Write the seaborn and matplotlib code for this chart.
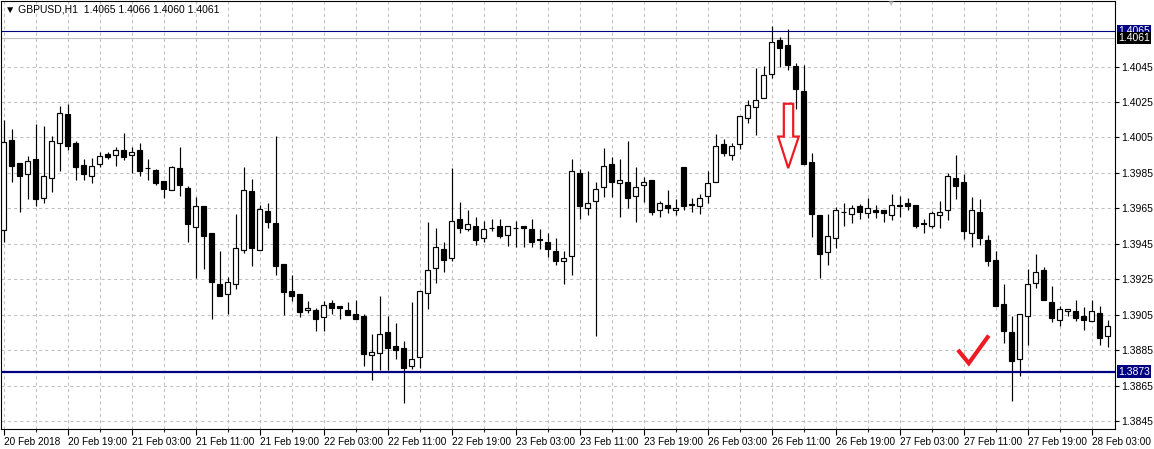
import seaborn as sns
import matplotlib.pyplot as plt
from matplotlib.patches import Polygon
import pandas as pd
import numpy as np

# GBPUSD H1 candles (one per hour, left to right)
opens = [1.39526, 1.40034, 1.39904, 1.39846, 1.39927, 1.39711, 1.39821, 1.40021, 1.40184, 1.40017,
         1.39893, 1.39835, 1.39900, 1.39955, 1.39953, 1.39977, 1.39953, 1.39977, 1.39875, 1.39865,
         1.39803, 1.39756, 1.39876, 1.39763, 1.39546, 1.39661, 1.39509, 1.39225, 1.39167, 1.39225,
         1.39417, 1.39749, 1.39415, 1.39636, 1.39569, 1.39338, 1.39185, 1.39168, 1.39076, 1.39078,
         1.39037, 1.39118, 1.39097, 1.39078, 1.39056, 1.39041, 1.38824, 1.38833, 1.38955, 1.38876,
         1.38865, 1.38762, 1.38810, 1.39173, 1.39314, 1.39423, 1.39369, 1.39590, 1.39532, 1.39551,
         1.39483, 1.39540, 1.39551, 1.39500, 1.39540, 1.39551, 1.39534, 1.39474, 1.39463, 1.39412,
         1.39353, 1.39379, 1.39849, 1.39651, 1.39691, 1.39770, 1.39900, 1.39792, 1.39798, 1.39719,
         1.39781, 1.39809, 1.39640, 1.39668, 1.39640, 1.39885, 1.39670, 1.39663, 1.39719, 1.39796,
         1.40012, 1.39950, 1.40012, 1.40159, 1.40219, 1.40271, 1.40407, 1.40600, 1.40572, 1.40454,
         1.40313, 1.39912, 1.39613, 1.39405, 1.39482, 1.39628, 1.39621, 1.39662, 1.39623, 1.39642,
         1.39643, 1.39613, 1.39670, 1.39681, 1.39670, 1.39564, 1.39549, 1.39613, 1.39639, 1.39822,
         1.39799, 1.39510, 1.39630, 1.39474, 1.39361, 1.39113, 1.38955, 1.38799, 1.39042, 1.39228,
         1.39303, 1.39123, 1.39021, 1.39070, 1.39072, 1.39045, 1.39015, 1.39059, 1.38928]
highs = [1.40146, 1.40096, 1.39904, 1.39944, 1.40126, 1.40113, 1.40056, 1.40226, 1.40237, 1.40032,
         1.39927, 1.39932, 1.39966, 1.39966, 1.39994, 1.40073, 1.39994, 1.40017, 1.39927, 1.39874,
         1.39805, 1.39887, 1.39994, 1.39774, 1.39717, 1.39665, 1.39509, 1.39407, 1.39261, 1.39621,
         1.39886, 1.39817, 1.39670, 1.39678, 1.40056, 1.39338, 1.39272, 1.39168, 1.39129, 1.39088,
         1.39129, 1.39131, 1.39097, 1.39120, 1.39131, 1.39056, 1.38944, 1.39155, 1.39045, 1.39006,
         1.38904, 1.39124, 1.39185, 1.39576, 1.39542, 1.39463, 1.39876, 1.39685, 1.39643, 1.39604,
         1.39577, 1.39591, 1.39591, 1.39551, 1.39581, 1.39551, 1.39591, 1.39534, 1.39510, 1.39483,
         1.39407, 1.39928, 1.39871, 1.39862, 1.39800, 1.39990, 1.39941, 1.39928, 1.40029, 1.39885,
         1.39828, 1.39809, 1.39693, 1.39755, 1.39702, 1.39885, 1.39708, 1.39730, 1.39858, 1.40069,
         1.40041, 1.40018, 1.40170, 1.40262, 1.40444, 1.40454, 1.40679, 1.40614, 1.40664, 1.40469,
         1.40458, 1.39961, 1.39613, 1.39621, 1.39655, 1.39681, 1.39668, 1.39677, 1.39707, 1.39670,
         1.39643, 1.39732, 1.39722, 1.39709, 1.39670, 1.39591, 1.39638, 1.39694, 1.39848, 1.39953,
         1.39844, 1.39713, 1.39703, 1.39502, 1.39412, 1.39224, 1.39045, 1.39055, 1.39307, 1.39393,
         1.39318, 1.39213, 1.39102, 1.39083, 1.39134, 1.39092, 1.39134, 1.39097, 1.39018]
lows = [1.39460, 1.39799, 1.39630, 1.39703, 1.39664, 1.39680, 1.39742, 1.39859, 1.39977, 1.39808,
        1.39808, 1.39791, 1.39882, 1.39929, 1.39889, 1.39921, 1.39850, 1.39831, 1.39808, 1.39780,
        1.39707, 1.39754, 1.39718, 1.39460, 1.39257, 1.39306, 1.39026, 1.39155, 1.39054, 1.39195,
        1.39398, 1.39324, 1.39415, 1.39542, 1.39272, 1.39050, 1.39125, 1.39035, 1.39059, 1.38956,
        1.38956, 1.39054, 1.39026, 1.39048, 1.39026, 1.38764, 1.38680, 1.38739, 1.38739, 1.38799,
        1.38551, 1.38745, 1.38748, 1.39081, 1.39228, 1.39290, 1.39356, 1.39510, 1.39521, 1.39442,
        1.39459, 1.39521, 1.39482, 1.39440, 1.39431, 1.39431, 1.39431, 1.39421, 1.39378, 1.39329,
        1.39223, 1.39274, 1.39589, 1.39612, 1.38931, 1.39717, 1.39717, 1.39599, 1.39650, 1.39576,
        1.39687, 1.39610, 1.39599, 1.39623, 1.39612, 1.39640, 1.39627, 1.39621, 1.39678, 1.39796,
        1.39947, 1.39922, 1.39986, 1.40129, 1.40065, 1.40271, 1.40388, 1.40450, 1.40429, 1.40209,
        1.39899, 1.39490, 1.39260, 1.39330, 1.39429, 1.39550, 1.39570, 1.39589, 1.39598, 1.39598,
        1.39572, 1.39587, 1.39600, 1.39641, 1.39540, 1.39510, 1.39540, 1.39538, 1.39587, 1.39703,
        1.39478, 1.39431, 1.39442, 1.39327, 1.39098, 1.38889, 1.38562, 1.38707, 1.38878, 1.39200,
        1.39132, 1.39012, 1.38989, 1.39042, 1.39014, 1.38965, 1.39015, 1.38881, 1.38871]
closes = [1.40024, 1.39889, 1.39833, 1.39915, 1.39703, 1.39835, 1.40032, 1.40190, 1.40002, 1.39882,
          1.39844, 1.39891, 1.39946, 1.39938, 1.39981, 1.39940, 1.39966, 1.39861, 1.39873, 1.39793,
          1.39759, 1.39885, 1.39782, 1.39562, 1.39665, 1.39494, 1.39234, 1.39155, 1.39236, 1.39428,
          1.39755, 1.39426, 1.39648, 1.39573, 1.39324, 1.39178, 1.39155, 1.39065, 1.39089, 1.39026,
          1.39106, 1.39088, 1.39088, 1.39048, 1.39026, 1.38828, 1.38843, 1.38944, 1.38861, 1.38852,
          1.38748, 1.38801, 1.39185, 1.39303, 1.39433, 1.39358, 1.39581, 1.39538, 1.39562, 1.39472,
          1.39534, 1.39541, 1.39493, 1.39551, 1.39540, 1.39540, 1.39459, 1.39473, 1.39420, 1.39356,
          1.39370, 1.39858, 1.39661, 1.39680, 1.39759, 1.39888, 1.39796, 1.39808, 1.39708, 1.39770,
          1.39798, 1.39629, 1.39682, 1.39650, 1.39651, 1.39661, 1.39671, 1.39708, 1.39792, 1.40003,
          1.39960, 1.40003, 1.40170, 1.40232, 1.40262, 1.40403, 1.40587, 1.40557, 1.40458, 1.40322,
          1.39899, 1.39621, 1.39392, 1.39493, 1.39640, 1.39629, 1.39651, 1.39627, 1.39651, 1.39627,
          1.39622, 1.39670, 1.39662, 1.39662, 1.39549, 1.39563, 1.39624, 1.39630, 1.39835, 1.39779,
          1.39521, 1.39641, 1.39482, 1.39352, 1.39098, 1.38961, 1.38792, 1.39055, 1.39224, 1.39292,
          1.39132, 1.39030, 1.39083, 1.39083, 1.39030, 1.39021, 1.39072, 1.38918, 1.38988]

# time axis labels, one every 8 bars
time_labels = ["20 Feb 2018", "20 Feb 19:00", "21 Feb 03:00", "21 Feb 11:00", "21 Feb 19:00",
               "22 Feb 03:00", "22 Feb 11:00", "22 Feb 19:00", "23 Feb 03:00", "23 Feb 11:00",
               "23 Feb 19:00", "26 Feb 03:00", "26 Feb 11:00", "26 Feb 19:00", "27 Feb 03:00",
               "27 Feb 11:00", "27 Feb 19:00", "28 Feb 03:00"]
price_ticks = [1.3845, 1.3865, 1.3885, 1.3905, 1.3925, 1.3945, 1.3965, 1.3985, 1.4005, 1.4025, 1.4045]

# horizontal levels shown on the chart
support_level = 1.3873
high_level = 1.4065
bid_level = 1.4061

df = pd.DataFrame({"open": opens, "high": highs, "low": lows, "close": closes})
df["bar"] = np.arange(len(df))
df["bull"] = df["close"] >= df["open"]

sns.set_style("white")
plt.rcParams["font.family"] = ["Liberation Sans", "DejaVu Sans"]

W, H = 1154, 449
fig = plt.figure(figsize=(W / 100, H / 100), dpi=100)
ax = fig.add_axes([0.5 / W, 20 / H, 1114 / W, 428.5 / H])
ax.set_facecolor("white")

grid_kw = dict(color="#c0c0c0", lw=0.75, ls=(0, (3, 3)), zorder=0)
for p in price_ticks:
    ax.axhline(p, **grid_kw)
for b in range(0, len(df), 4):
    ax.axvline(b, **grid_kw)

ax.axhline(high_level, color="#000080", lw=0.8, zorder=1)
ax.axhline(bid_level, color="#c0c0c0", lw=0.8, zorder=1)

# candles
ax.vlines(df["bar"], df["low"], df["high"], color="black", lw=0.85, zorder=2)
body = (df["close"] - df["open"]).where((df["close"] - df["open"]).abs() > 0.00002, 0.00002)
ax.bar(df["bar"], body, bottom=df["open"], width=0.55,
       color=np.where(df["bull"], "white", "black"), edgecolor="black", linewidth=0.85, zorder=3)

ax.axhline(support_level, color="#000080", lw=1.6, zorder=4)

# hand-drawn markup
arrow = Polygon([(97.54, 1.40240), (98.71, 1.40240), (98.71, 1.40055), (99.41, 1.40055),
                 (98.09, 1.39877), (96.84, 1.40055), (97.54, 1.40055)],
                closed=True, fill=False, edgecolor="#ed1c24", lw=1.6, zorder=5)
ax.add_patch(arrow)
ax.plot([119.3, 120.66, 123.16], [1.38852, 1.38777, 1.38933], color="#ed1c24", lw=3,
        solid_capstyle="butt", solid_joinstyle="miter", zorder=5)

ax.set_xlim(-0.375, 138.875)
ax.set_ylim(1.38406, 1.408222)

ax.set_xticks(range(0, len(df), 8))
ax.set_xticklabels(time_labels, ha="left")
ax.set_xticks(range(4, len(df), 8), minor=True)
ax.tick_params(axis="x", which="major", direction="out", length=4, width=0.8, pad=2,
               labelsize=7.2, colors="black", bottom=True)
ax.tick_params(axis="x", which="minor", direction="out", length=2, width=0.8, bottom=True)

ax.yaxis.tick_right()
ax.set_yticks(price_ticks)
ax.set_yticklabels([f"{p:.4f}" for p in price_ticks])
ax.tick_params(axis="y", direction="out", length=3, width=0.8, pad=2, labelsize=7.5,
               colors="black", right=True, left=False)

for s in ax.spines.values():
    s.set_visible(True)
    s.set_color("black")
    s.set_linewidth(0.8)

# price boxes on the right scale
for level, bg in [(high_level, "#000080"), (bid_level, "black"), (support_level, "#000080")]:
    ax.annotate(f"{level:.4f}", xy=(1.0, level), xycoords=("axes fraction", "data"),
                xytext=(2.5, 0), textcoords="offset points", ha="left", va="center",
                fontsize=7.5, color="white", annotation_clip=False, zorder=10,
                bbox=dict(boxstyle="square,pad=0.12", fc=bg, ec="none"))

fig.text(5 / W, 1 - 10 / H, "\u25bc GBPUSD,H1  1.4065 1.4066 1.4060 1.4061",
         fontsize=7.5, va="center", ha="left", color="black")
fig.text(890 / W, 1 - 4 / H, "\u25bc", fontsize=6, va="center", ha="center", color="#c0c0c0")

fig.savefig("out.png", dpi=100)
